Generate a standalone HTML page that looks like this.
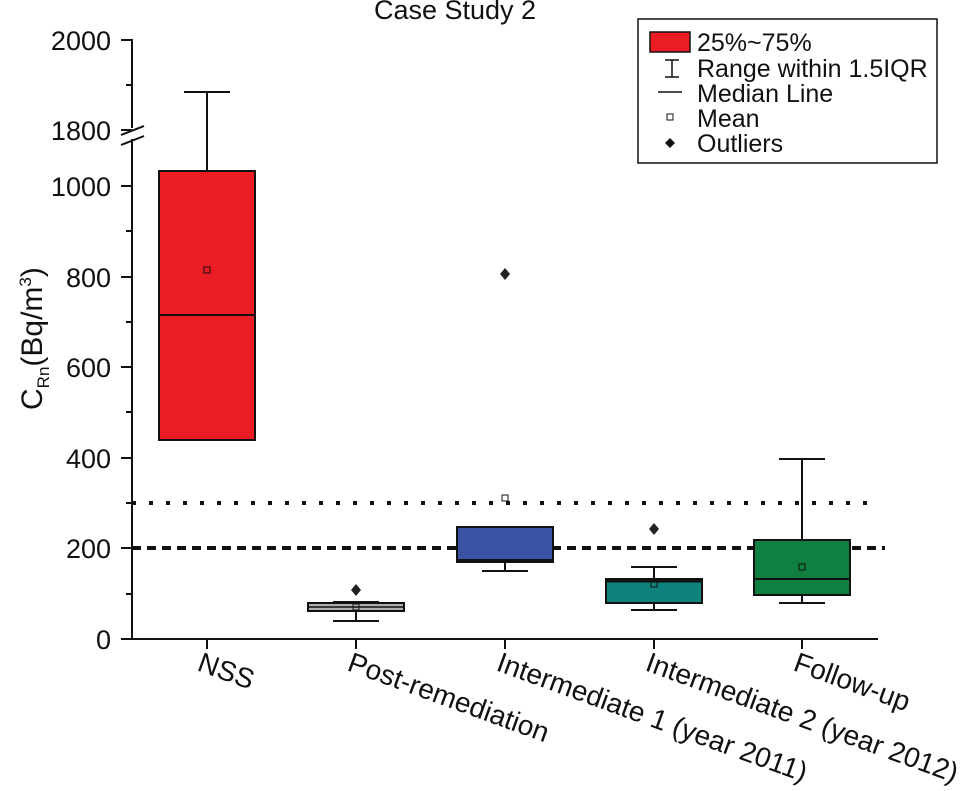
<!DOCTYPE html>
<html><head><meta charset="utf-8"><style>
html,body{margin:0;padding:0;background:#fff;}
svg{display:block;font-family:"Liberation Sans",Arial,sans-serif;}
</style></head><body>
<svg width="965" height="791" viewBox="0 0 965 791">
<text x="455" y="19" font-size="27" text-anchor="middle" fill="#111">Case Study 2</text>
<line x1="132" y1="503" x2="878" y2="503" stroke="#111" stroke-width="4" stroke-dasharray="4,13"/>
<line x1="132" y1="548" x2="885" y2="548" stroke="#111" stroke-width="4" stroke-dasharray="9,6"/>
<g stroke="#111" stroke-width="2">
<line x1="132" y1="39" x2="132" y2="128"/>
<line x1="132" y1="139" x2="132" y2="639"/>
<line x1="121" y1="40" x2="132" y2="40"/>
<line x1="126" y1="85" x2="132" y2="85"/>
<line x1="121" y1="130" x2="132" y2="130"/>
<line x1="121" y1="135" x2="144" y2="126"/>
<line x1="121" y1="145" x2="144" y2="136"/>
<line x1="121" y1="186" x2="132" y2="186"/>
<line x1="126" y1="231" x2="132" y2="231"/>
<line x1="121" y1="277" x2="132" y2="277"/>
<line x1="126" y1="322" x2="132" y2="322"/>
<line x1="121" y1="367" x2="132" y2="367"/>
<line x1="126" y1="412" x2="132" y2="412"/>
<line x1="121" y1="458" x2="132" y2="458"/>
<line x1="126" y1="503" x2="132" y2="503"/>
<line x1="121" y1="548" x2="132" y2="548"/>
<line x1="126" y1="594" x2="132" y2="594"/>
<line x1="121" y1="639" x2="132" y2="639"/>
<line x1="131" y1="639" x2="878" y2="639"/>
<line x1="207" y1="639" x2="207" y2="649"/>
<line x1="356" y1="639" x2="356" y2="649"/>
<line x1="505" y1="639" x2="505" y2="649"/>
<line x1="654" y1="639" x2="654" y2="649"/>
<line x1="802" y1="639" x2="802" y2="649"/>
</g>
<g font-size="27" text-anchor="end" fill="#111">
<text x="111" y="50">2000</text>
<text x="111" y="140">1800</text>
<text x="111" y="196">1000</text>
<text x="111" y="287">800</text>
<text x="111" y="377">600</text>
<text x="111" y="468">400</text>
<text x="111" y="558">200</text>
<text x="111" y="649">0</text>
</g>
<text transform="translate(42,410) rotate(-90)" font-size="30" fill="#111">C<tspan font-size="17" dy="7">Rn</tspan><tspan dy="-7">(Bq/m</tspan><tspan font-size="17" dy="-11">3</tspan><tspan dy="11">)</tspan></text>
<g stroke="#111" stroke-width="2">
<line x1="207" y1="92" x2="207" y2="171"/><line x1="184" y1="92" x2="230" y2="92"/>
<line x1="207" y1="440" x2="207" y2="330"/><line x1="184" y1="330" x2="230" y2="330"/>
<rect x="159" y="171" width="96" height="269" fill="#ec1c24"/>
<line x1="159" y1="315" x2="255" y2="315"/>
<rect x="204" y="267" width="6" height="6" fill="none" stroke-width="1"/>
<line x1="356" y1="611" x2="356" y2="621"/><line x1="333" y1="621" x2="379" y2="621"/>
<line x1="333" y1="602" x2="379" y2="602"/>
<rect x="308" y="603" width="96" height="8" fill="#b0b0b0"/>
<line x1="308" y1="607" x2="404" y2="607" stroke-width="1.5"/>
<rect x="353" y="604" width="6" height="6" fill="none" stroke-width="1"/>
<line x1="505" y1="562" x2="505" y2="571"/><line x1="482" y1="571" x2="528" y2="571"/>
<rect x="457" y="527" width="96" height="35" fill="#3b53a4"/>
<line x1="457" y1="560" x2="553" y2="560"/>
<rect x="502" y="495" width="6" height="6" fill="#fff" stroke-width="1"/>
<line x1="654" y1="567" x2="654" y2="579"/><line x1="631" y1="567" x2="677" y2="567"/>
<line x1="654" y1="603" x2="654" y2="610"/><line x1="631" y1="610" x2="677" y2="610"/>
<rect x="606" y="579" width="96" height="24" fill="#0e837e"/>
<line x1="606" y1="581" x2="702" y2="581" stroke-width="3"/>
<rect x="651" y="582" width="6" height="5" fill="none" stroke-width="1"/>
<line x1="802" y1="459" x2="802" y2="540"/><line x1="779" y1="459" x2="825" y2="459"/>
<line x1="802" y1="595" x2="802" y2="603"/><line x1="779" y1="603" x2="825" y2="603"/>
<rect x="754" y="540" width="96" height="55" fill="#0f8040"/>
<line x1="754" y1="579" x2="850" y2="579"/>
<rect x="799" y="564" width="6" height="6" fill="none" stroke-width="1"/>
</g>
<g fill="#222">
<polygon points="356,584 361,590 356,596 351,590"/>
<polygon points="505,268 510,274 505,280 500,274"/>
<polygon points="654,523 659,529 654,535 649,529"/>
</g>
<g font-size="28" fill="#111">
<text transform="translate(196,670) rotate(20)">NSS</text>
<text transform="translate(346,670) rotate(20)">Post-remediation</text>
<text transform="translate(495,670) rotate(20)">Intermediate 1 (year 2011)</text>
<text transform="translate(644,670) rotate(20)">Intermediate 2 (year 2012)</text>
<text transform="translate(792,670) rotate(20)">Follow-up</text>
</g>
<rect x="638" y="19" width="299" height="144" fill="#fff" stroke="#111" stroke-width="1.5"/>
<rect x="650" y="32" width="40" height="20" fill="#ec1c24" stroke="#111" stroke-width="1.5"/>
<g stroke="#111" stroke-width="1.5">
<line x1="672" y1="60" x2="672" y2="77"/><line x1="665" y1="60" x2="679" y2="60"/><line x1="665" y1="77" x2="679" y2="77"/>
<line x1="658" y1="92" x2="682" y2="92"/>
<rect x="667" y="114" width="6" height="6" fill="none" stroke-width="1"/>
</g>
<polygon points="670,138 675,143 670,148 665,143" fill="#111"/>
<g font-size="25" fill="#111">
<text x="697" y="51">25%~75%</text>
<text x="697" y="77">Range within 1.5IQR</text>
<text x="697" y="102">Median Line</text>
<text x="697" y="127">Mean</text>
<text x="697" y="152">Outliers</text>
</g>
</svg>
</body></html>
